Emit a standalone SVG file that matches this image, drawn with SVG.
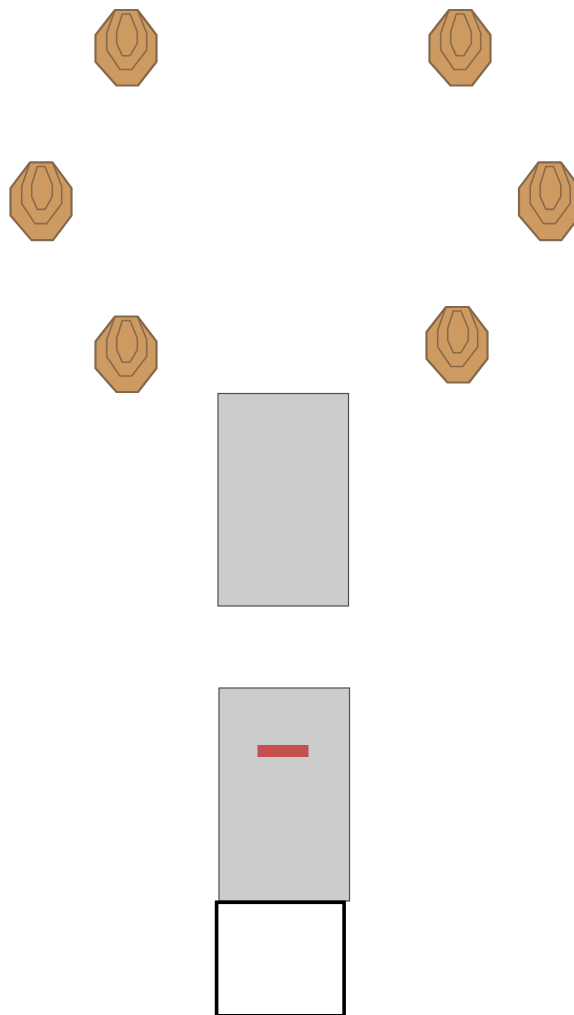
<svg xmlns="http://www.w3.org/2000/svg" width="574" height="1015" viewBox="0 0 574 1015">
<style>
.t{fill:#cd9a62;stroke:#85694c;stroke-linejoin:round}
.o{stroke-width:2.2}
.r{fill:none;stroke:#8a6a48;stroke-width:1.6;stroke-linejoin:round}
.g{fill:#cccccc;stroke:#4d4d4d;stroke-width:1.2}
</style>
<defs>
<g id="target">
<polygon class="t o" points="-11,-38 11.5,-38 30.5,-13 30.5,13.7 12,37.5 -9.5,37.5 -30.5,13.7 -30.5,-13"/>
<polyline class="r" points="-11,-38 -19.3,-14.7 -19.3,2 -6,21.5 5.7,21.5 20.7,2 20.7,-14.7 11.5,-38"/>
<polygon class="r" points="-3.7,-34 4,-34 11.3,-16.3 11.3,-4.7 4,7.7 -3.7,7.7 -9.3,-4.7 -9.3,-16.3"/>
</g>
</defs>
<rect width="574" height="1015" fill="#ffffff"/>
<g id="target-1"><use href="#target" x="126" y="48"/></g>
<g id="target-2"><use href="#target" x="460" y="48"/></g>
<g id="target-3"><use href="#target" transform="translate(41 201.5) scale(1 1.03)"/></g>
<g id="target-4"><use href="#target" transform="translate(549.5 201.5) scale(1 1.03)"/></g>
<g id="target-5"><use href="#target" x="126" y="354.5"/></g>
<g id="target-6"><use href="#target" x="457" y="345"/></g>
<g id="barrier-1"><rect class="g" x="218" y="393.5" width="130.5" height="212.5"/></g>
<g id="barrier-2"><rect class="g" x="219" y="688" width="130.5" height="213"/>
<rect x="257.5" y="745" width="51" height="12" fill="#c65050"/></g>
<g id="box"><rect x="216.6" y="902.3" width="127.5" height="113.5" fill="#ffffff" stroke="#000000" stroke-width="3.6"/></g>
<g id="connectors"></g>
</svg>
